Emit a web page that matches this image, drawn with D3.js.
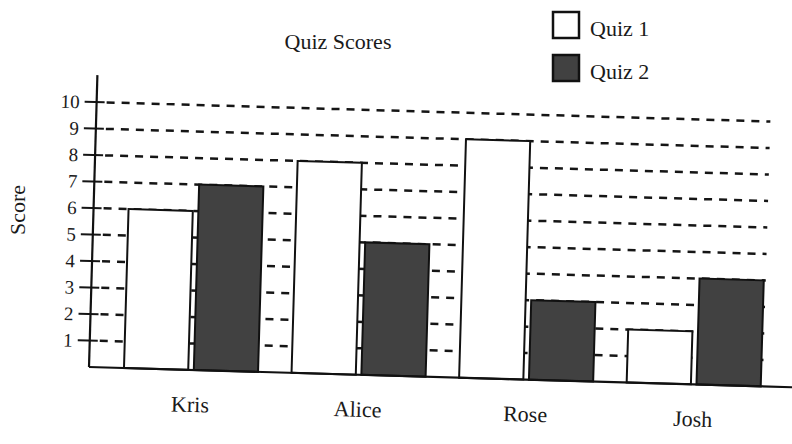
<!DOCTYPE html>
<html>
<head>
<meta charset="utf-8">
<script src="https://cdn.jsdelivr.net/npm/d3@7"></script>
<style>
  html, body { margin: 0; padding: 0; background: #fff; }
  svg text { font-family: 'Liberation Serif', 'DejaVu Serif', serif; fill: #1a1a1a; }
</style>
</head>
<body>
<svg id="chart" width="792" height="444"></svg>
<script>
const names = ['Kris', 'Alice', 'Rose', 'Josh']
const series = ['Quiz 1', 'Quiz 2']
const quiz1 = [6, 8, 9, 2]
const quiz2 = [7, 5, 3, 4]
const yTicks = [1, 2, 3, 4, 5, 6, 7, 8, 9, 10]
const title = 'Quiz Scores'
const yLabel = 'Score'

const fills = { 'Quiz 1': '#ffffff', 'Quiz 2': '#414141' }

const svg = d3.select('#chart')

// the scan is slightly tilted, so the plot is drawn straight then turned
const origin = { x: 89, y: 367 }
const g = svg.append('g')
  .attr('transform', `rotate(1.65, ${origin.x}, ${origin.y})`)

const x = d3.scaleBand()
  .domain(names)
  .range([124, 761])
  .paddingInner(0.2)

const xInner = d3.scaleBand()
  .domain(series)
  .range([0, x.bandwidth()])
  .paddingInner(0.08)

const y = d3.scaleLinear()
  .domain([0, 10])
  .range([origin.y, 102])

// dashed grid
g.selectAll('.grid').data(yTicks)
  .enter().append('line')
  .attr('class', 'grid')
  .attr('x1', origin.x + 10)
  .attr('x2', 763)
  .attr('y1', d => y(d))
  .attr('y2', d => y(d))
  .attr('stroke', '#151515')
  .attr('stroke-width', 2.5)
  .attr('stroke-dasharray', '8,7')

// tick marks crossing the axis
g.selectAll('.tick-mark').data(yTicks)
  .enter().append('line')
  .attr('class', 'tick-mark')
  .attr('x1', origin.x - 12)
  .attr('x2', origin.x + 8)
  .attr('y1', d => y(d))
  .attr('y2', d => y(d))
  .attr('stroke', '#151515')
  .attr('stroke-width', 2)

g.selectAll('.tick-label').data(yTicks)
  .enter().append('text')
  .attr('class', 'tick-label')
  .attr('x', origin.x - 17)
  .attr('y', d => y(d))
  .attr('dy', '0.35em')
  .attr('text-anchor', 'end')
  .style('font-size', '19px')
  .text(d => d)

// bars
let rows = names.map((n, i) => ({ name: n, values: [quiz1[i], quiz2[i]] }))
let groups = g.selectAll('.group').data(rows)
  .enter().append('g')
  .attr('class', 'group')
  .attr('transform', d => `translate(${x(d.name)},0)`)

groups.selectAll('rect')
  .data(d => series.map((s, i) => ({ key: s, value: d.values[i] })))
  .enter().append('rect')
  .attr('x', d => xInner(d.key))
  .attr('y', d => y(d.value))
  .attr('width', xInner.bandwidth())
  .attr('height', d => y(0) - y(d.value))
  .attr('fill', d => fills[d.key])
  .attr('stroke', '#111')
  .attr('stroke-width', 2)

// axes lines
g.append('line')
  .attr('x1', origin.x).attr('x2', origin.x)
  .attr('y1', origin.y).attr('y2', 75)
  .attr('stroke', '#111').attr('stroke-width', 2.2)
g.append('line')
  .attr('x1', origin.x).attr('x2', 810)
  .attr('y1', origin.y).attr('y2', origin.y)
  .attr('stroke', '#111').attr('stroke-width', 2.2)

g.selectAll('.cat').data(names)
  .enter().append('text')
  .attr('class', 'cat')
  .attr('x', d => x(d) + x.bandwidth() / 2)
  .attr('y', origin.y + 42)
  .attr('text-anchor', 'middle')
  .style('font-size', '22px')
  .text(d => d)

svg.append('text')
  .attr('x', 338)
  .attr('y', 49)
  .attr('text-anchor', 'middle')
  .style('font-size', '22px')
  .text(title)

svg.append('text')
  .attr('transform', 'translate(25,210) rotate(-90)')
  .attr('text-anchor', 'middle')
  .style('font-size', '22px')
  .text(yLabel)

// legend
let legend = svg.selectAll('.legend').data(series)
  .enter().append('g')
  .attr('class', 'legend')
  .attr('transform', (d, i) => `translate(553,${12 + i * 43})`)
legend.append('rect')
  .attr('width', 26)
  .attr('height', 26)
  .attr('fill', d => fills[d])
  .attr('stroke', '#111')
  .attr('stroke-width', 2.5)
legend.append('text')
  .attr('x', 37)
  .attr('y', 24)
  .style('font-size', '22px')
  .text(d => d)
</script>
</body>
</html>
